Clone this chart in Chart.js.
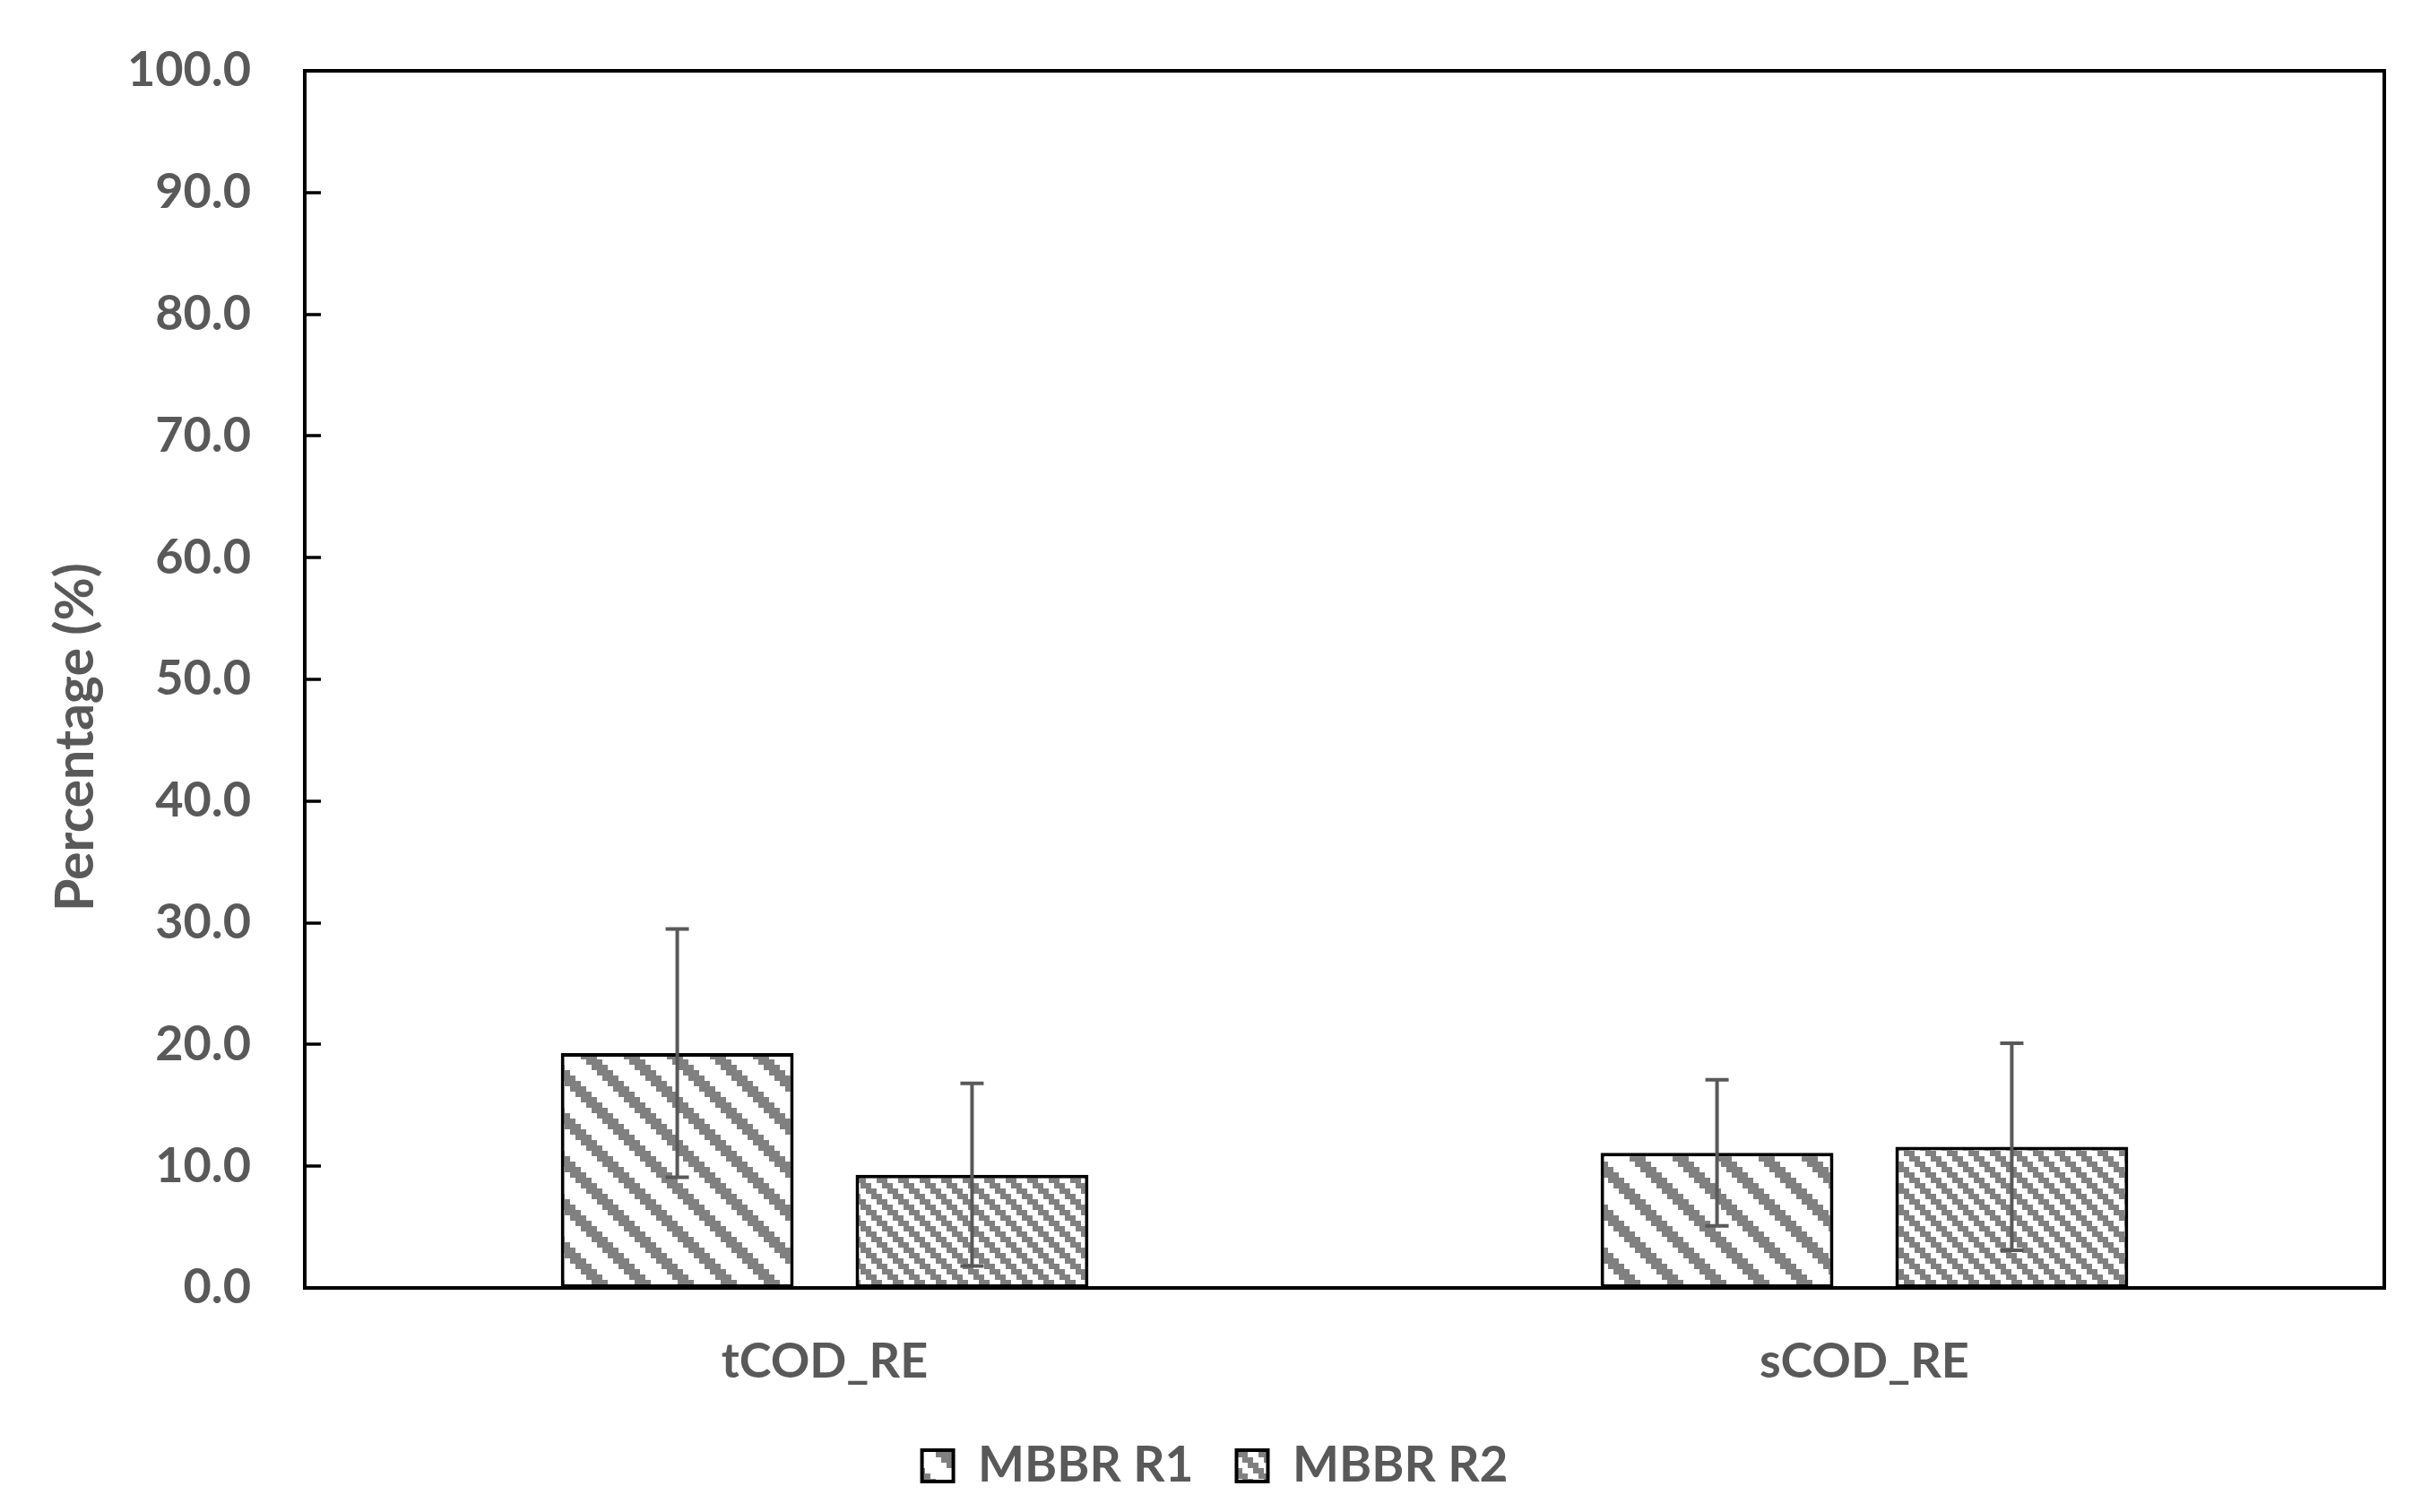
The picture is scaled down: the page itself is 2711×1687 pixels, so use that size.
<!DOCTYPE html>
<html><head><meta charset="utf-8">
<script src="https://cdn.jsdelivr.net/npm/chart.js@4.4.1/dist/chart.umd.min.js"></script>
<style>html,body{margin:0;padding:0;background:#fff;} canvas{display:block;}</style>
</head><body>
<canvas id="c" width="2711" height="1687"></canvas>
<script>
const categories = ['tCOD_RE', 'sCOD_RE'];
const seriesNames = ['MBBR R1', 'MBBR R2'];
const r1Values = [19.3, 11.1];
const r1Errors = [10.2, 6.0];
const r2Values = [9.3, 11.6];
const r2Errors = [7.5, 8.5];
const yTickLabels = ['0.0','10.0','20.0','30.0','40.0','50.0','60.0','70.0','80.0','90.0','100.0'];

const canvas = document.getElementById('c');
const ctx = canvas.getContext('2d');

function makePattern(period, on, cell) {
  const t = document.createElement('canvas');
  t.width = t.height = period * cell;
  const g = t.getContext('2d');
  g.fillStyle = '#ffffff'; g.fillRect(0, 0, t.width, t.height);
  g.fillStyle = '#808080';
  for (let r = 0; r < period; r++) {
    for (let k = 0; k < on; k++) {
      const col = (r + k) % period;
      g.fillRect(col * cell, r * cell, cell, cell);
    }
  }
  return ctx.createPattern(t, 'repeat');
}
const pat1 = makePattern(8, 3, 6);
const pat2 = makePattern(4, 2, 6);

const FONT = 'Lato';
const TXT = '#595959';

const framePlugin = {
  id: 'frame',
  afterDatasetsDraw(chart) {
    const a = chart.chartArea, c = chart.ctx, ys = chart.scales.y;
    c.save();
    c.strokeStyle = '#000'; c.lineWidth = 4;
    c.strokeRect(a.left, a.top, a.right - a.left, a.bottom - a.top);
    c.beginPath();
    ys.ticks.forEach(t => {
      const y = Math.round(ys.getPixelForValue(t.value));
      c.moveTo(a.left, y); c.lineTo(a.left + 18, y);
    });
    c.lineWidth = 3.5;
    c.stroke();
    c.restore();
  }
};

const errorBarPlugin = {
  id: 'errorBars',
  afterDatasetsDraw(chart) {
    const c = chart.ctx, ys = chart.scales.y;
    c.save();
    c.strokeStyle = '#595959';
    c.lineWidth = 4;
    chart.data.datasets.forEach((ds, i) => {
      const meta = chart.getDatasetMeta(i);
      meta.data.forEach((bar, j) => {
        const v = ds.data[j], e = ds.errors[j];
        const yTop = ys.getPixelForValue(v + e), yBot = ys.getPixelForValue(v - e);
        const x = bar.x, hw = 13;
        c.beginPath();
        c.moveTo(x, yTop); c.lineTo(x, yBot);
        c.moveTo(x - hw, yTop); c.lineTo(x + hw, yTop);
        c.moveTo(x - hw, yBot); c.lineTo(x + hw, yBot);
        c.stroke();
      });
    });
    c.restore();
  }
};

new Chart(ctx, {
  type: 'bar',
  data: {
    labels: categories,
    datasets: [
      { label: seriesNames[0], data: r1Values, errors: r1Errors, backgroundColor: pat1, borderColor: '#000', borderWidth: 4, borderSkipped: false },
      { label: seriesNames[1], data: r2Values, errors: r2Errors, backgroundColor: pat2, borderColor: '#000', borderWidth: 4, borderSkipped: false }
    ]
  },
  options: {
    responsive: false,
    animation: false,
    devicePixelRatio: 1,
    layout: { padding: { left: 0, right: 0, top: 79, bottom: 14 } },
    datasets: { bar: { categoryPercentage: 0.567, barPercentage: 0.79 } },
    scales: {
      x: {
        grid: { display: false, drawTicks: false },
        border: { display: false },
        ticks: { font: { family: FONT, size: 54, weight: 'bold' }, color: TXT, padding: 50 },
        afterFit(s) { s.height = 123; s.paddingLeft = 0; s.paddingRight = 0; }
      },
      y: {
        min: 0, max: 100,
        grid: { display: false, drawTicks: false },
        border: { display: false },
        ticks: { stepSize: 10, callback: (v, i) => yTickLabels[i], font: { family: FONT, size: 54, weight: 'bold' }, color: TXT, padding: 60 },
        title: { display: true, text: 'Percentage (%)' + '\u00a0'.repeat(9), font: { family: FONT, size: 59, weight: 'bold' }, color: TXT, padding: { top: 50, bottom: 0 } },
        afterFit(s) { s.width = 340; s.paddingTop = 0; s.paddingBottom = 0; }
      },
      yRight: {
        position: 'right',
        display: true,
        grid: { display: false, drawTicks: false },
        border: { display: false },
        ticks: { display: false },
        afterFit(s) { s.width = 51; s.paddingTop = 0; s.paddingBottom = 0; }
      }
    },
    plugins: {
      legend: {
        position: 'bottom',
        labels: { boxWidth: 35, boxHeight: 35, padding: 48, font: { family: FONT, size: 55, weight: 'bold' }, color: TXT }
      },
      tooltip: { enabled: false }
    }
  },
  plugins: [framePlugin, errorBarPlugin]
});
</script>
</body></html>
